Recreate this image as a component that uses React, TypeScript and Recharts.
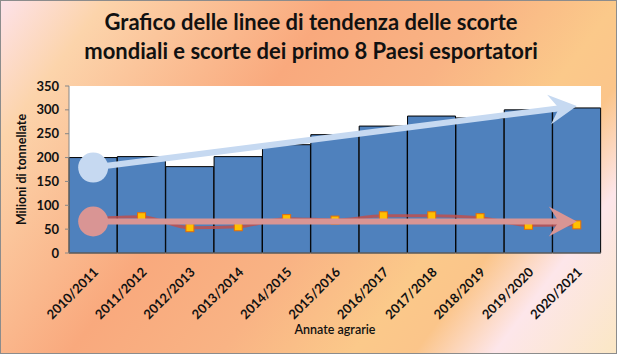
import { ComposedChart, Bar, Line, XAxis, YAxis, CartesianGrid, Label } from 'recharts';

const annate = ['2010/2011', '2011/2012', '2012/2013', '2013/2014', '2014/2015', '2015/2016', '2016/2017', '2017/2018', '2018/2019', '2019/2020', '2020/2021'];
const scorteMondiali = [200, 202, 181, 202, 227, 248, 266, 287, 283, 300, 304];
const scortePrimi8 = [72, 76, 53, 55, 72, 69, 78, 78, 74, 58, 59];
const yTicks = [0, 50, 100, 150, 200, 250, 300, 350];

// frecce di tendenza: valore al primo e all'ultimo anno
const trendMondiali = [179, 308];
const trendPrimi8 = [66, 66];

const last = annate.length - 1;
const data = annate.map((a, i) => ({
  anno: a,
  mondiali: scorteMondiali[i],
  primi8: scortePrimi8[i],
  trendM: i === 0 ? trendMondiali[0] : i === last ? trendMondiali[1] : null,
  trendP: i === 0 ? trendPrimi8[0] : i === last ? trendPrimi8[1] : null,
}));

const FONT = 'Lato, "Open Sans", sans-serif';

const XTick = ({ x, y, payload }: any) => (
  <text
    x={x + 6}
    y={y + 20}
    transform={`rotate(-45 ${x + 6} ${y + 20})`}
    textAnchor="end"
    fontSize={13}
    fontWeight={700}
    fill="#111"
    fontFamily={FONT}
  >
    {payload.value}
  </text>
);

const Square = ({ cx, cy, index }: any) => (
  <rect key={index} x={cx - 4} y={cy - 4} width={8} height={8} fill="#ffc000" stroke="#e46c0a" strokeWidth={1} />
);

// the whole arrow is drawn by the dot of the last point, using the first point as start
function arrowDot(color: string) {
  let start: { x: number; y: number } | null = null;
  return (p: any) => {
    const { cx, cy, index, value } = p;
    if (value == null || cx == null || cy == null) return <g key={index} />;
    if (index === 0) {
      start = { x: cx, y: cy };
      return <g key={index} />;
    }
    if (!start) return <g key={index} />;
    const x1 = start.x;
    const y1 = start.y;
    const dx0 = cx - x1;
    const dy0 = cy - y1;
    const len0 = Math.sqrt(dx0 * dx0 + dy0 * dy0);
    const ux = dx0 / len0;
    const uy = dy0 / len0;
    const px = -uy;
    const py = ux;
    const L = 28;
    const W = 15;
    const N = 10;
    const bx = cx - ux * L;
    const by = cy - uy * L;
    const nx = cx - ux * (L - N);
    const ny = cy - uy * (L - N);
    const head = `M${cx},${cy} L${bx + px * W},${by + py * W} L${nx},${ny} L${bx - px * W},${by - py * W} Z`;
    return (
      <g key={index}>
        <line x1={x1} y1={y1} x2={nx + ux} y2={ny + uy} stroke={color} strokeWidth={6} />
        <circle cx={x1} cy={y1} r={15} fill={color} />
        <path d={head} fill={color} />
      </g>
    );
  };
}

export default function App() {
  return (
    <div
      style={{
        position: 'absolute',
        left: 0,
        top: 0,
        width: 617,
        height: 354,
        background:
          'linear-gradient(127deg, #fde2ea 0%, #fcd4ab 12%, #f9a97d 38%, #f9b384 55%, #fbc98a 70%, #fbc58a 77%, #fde6ea 86%, #fbe7c4 100%)',
        fontFamily: FONT,
      }}
    >
      <div
        style={{
          position: 'absolute',
          left: 0,
          top: 7,
          width: 622,
          textAlign: 'center',
          fontSize: 22,
          fontWeight: 700,
          lineHeight: '29px',
          color: '#111',
        }}
      >
        Grafico delle linee di tendenza delle scorte
        <br />
        mondiali e scorte dei primo 8 Paesi esportatori
      </div>
      <ComposedChart
        width={617}
        height={354}
        data={data}
        margin={{ top: 86, right: 16, left: 0, bottom: 0 }}
        barCategoryGap={0}
        style={{ position: 'absolute', left: 0, top: 0 }}
      >
        <CartesianGrid horizontal={false} vertical={false} fill="#ffffff" />
        <XAxis
          dataKey="anno"
          height={101}
          interval={0}
          tick={<XTick />}
          tickLine={false}
          tickSize={0}
          tickMargin={0}
          axisLine={{ stroke: '#868686' }}
        >
          <Label value="Annate agrarie" position="insideBottom" offset={20} fontSize={12.5} fontWeight={600} fill="#111" fontFamily={FONT} />
        </XAxis>
        <YAxis
          domain={[0, 350]}
          ticks={yTicks}
          width={69}
          tickSize={4}
          tickMargin={6}
          axisLine={{ stroke: '#868686' }}
          tickLine={{ stroke: '#868686' }}
          tick={{ fontSize: 13, fontWeight: 700, fill: '#111', fontFamily: FONT }}
        >
          <Label value="Milioni di tonnellate" angle={-90} position="insideLeft" offset={22} fontSize={12.5} fontWeight={700} fill="#111" fontFamily={FONT} style={{ textAnchor: 'middle' }} />
        </YAxis>
        <Bar dataKey="mondiali" fill="#4f81bd" stroke="#000" strokeWidth={1} isAnimationActive={false} />
        <Line dataKey="trendM" stroke="none" strokeWidth={0} dot={arrowDot('#c6d9f1')} activeDot={false} isAnimationActive={false} />
        <Line
          dataKey="primi8"
          type="monotone"
          stroke="#c0504d"
          strokeWidth={3}
          strokeOpacity={0.85}
          dot={Square}
          activeDot={false}
          isAnimationActive={false}
        />
        <Line dataKey="trendP" stroke="none" strokeWidth={0} dot={arrowDot('#d99594')} activeDot={false} isAnimationActive={false} />
      </ComposedChart>
      <div style={{ position: 'absolute', left: 0, top: 0, width: 617, height: 354, boxSizing: 'border-box', border: '1px solid #8c8c8c', pointerEvents: 'none' }} />
    </div>
  );
}
